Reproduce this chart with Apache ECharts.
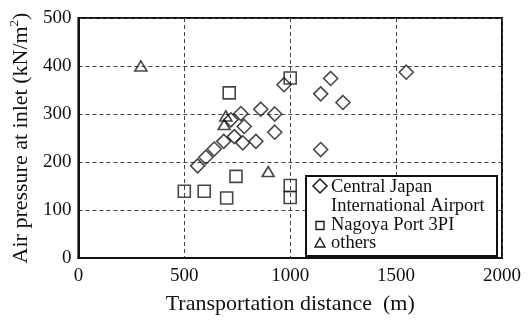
<!DOCTYPE html>
<html>
<head>
<meta charset="utf-8">
<script src="https://cdn.jsdelivr.net/npm/echarts@6/dist/echarts.min.js"></script>
<style>
  html, body { margin: 0; padding: 0; background: #fff; }
  #chart { width: 529px; height: 323px; }
</style>
</head>
<body>
<div id="chart"></div>
<script>
// Transportation distance (m) vs. air pressure at inlet (kN/m2)
const airportDistance = [563, 602, 641, 686, 736, 720, 767, 783, 776, 838, 861, 927, 927, 971, 1144, 1191, 1249, 1144, 1548];
const airportPressure = [192, 210, 227, 243, 253, 288, 301, 274, 240, 243, 310, 300, 262, 361, 342, 374, 324, 226, 387];

const portDistance = [500, 594, 700, 744, 712, 1000, 1000, 1000];
const portPressure = [139, 139, 125, 170, 344, 375, 151, 126];

const otherDistance = [295, 696, 688, 896];
const otherPressure = [400, 296, 278, 180];

const xTicks = [0, 500, 1000, 1500, 2000];
const yTicks = [0, 100, 200, 300, 400, 500];

const seriesNames = ['Central Japan International Airport', 'Nagoya Port 3PI', 'others'];

const FONT = 'Liberation Serif';
const INK = '#111';

function pairs(xs, ys) { return xs.map((x, i) => [x, ys[i]]); }

const markerStyle = { color: 'rgba(0,0,0,0)', borderColor: '#1a1a1a', borderWidth: 1.6 };

const chart = echarts.init(document.getElementById('chart'), null, { renderer: 'canvas' });

// Legend box drawn in the lower right corner of the plot
const LX = 306, LY = 176, LW = 191, LH = 80;
const legendFont = '18.5px "' + FONT + '"';
const legendChildren = [
  { type: 'rect', z: 1, shape: { x: LX, y: LY, width: LW, height: LH },
    style: { fill: '#ffffff', stroke: '#111', lineWidth: 2 } },
  { type: 'polygon', z: 2, shape: { points: [[320, 179], [327, 186], [320, 193], [313, 186]] },
    style: { fill: 'rgba(0,0,0,0)', stroke: '#1a1a1a', lineWidth: 1.5 } },
  { type: 'text', z: 2, x: 331, y: 187,
    style: { text: 'Central Japan', font: legendFont, fill: INK, verticalAlign: 'middle' } },
  { type: 'text', z: 2, x: 331, y: 206,
    style: { text: 'International Airport', font: legendFont, fill: INK, verticalAlign: 'middle' } },
  { type: 'rect', z: 2, shape: { x: 316, y: 221.5, width: 8, height: 8 },
    style: { fill: 'rgba(0,0,0,0)', stroke: '#1a1a1a', lineWidth: 1.4 } },
  { type: 'text', z: 2, x: 331, y: 225,
    style: { text: 'Nagoya Port 3PI', font: legendFont, fill: INK, verticalAlign: 'middle' } },
  { type: 'polygon', z: 2, shape: { points: [[320, 238], [325, 247], [315, 247]] },
    style: { fill: 'rgba(0,0,0,0)', stroke: '#1a1a1a', lineWidth: 1.4 } },
  { type: 'text', z: 2, x: 331, y: 243,
    style: { text: 'others', font: legendFont, fill: INK, verticalAlign: 'middle' } }
];

const plainNumber = v => String(v);

const option = {
  backgroundColor: '#fff',
  animation: false,
  grid: {
    left: 77, right: 27, top: 18, bottom: 65,
    show: true, borderColor: '#111', borderWidth: 2, backgroundColor: 'transparent'
  },
  xAxis: {
    type: 'value',
    min: xTicks[0], max: xTicks[xTicks.length - 1], interval: 500,
    name: 'Transportation distance  (m)',
    nameLocation: 'middle', nameGap: 35,
    nameTextStyle: { fontFamily: FONT, fontSize: 22, color: INK },
    axisLine: { show: true, onZero: false, lineStyle: { color: '#111', width: 2 } },
    axisTick: { show: false },
    axisLabel: { fontFamily: FONT, fontSize: 19, color: INK, margin: 9, formatter: plainNumber },
    splitLine: { show: true, lineStyle: { color: '#444', width: 1, type: [4, 3] } }
  },
  yAxis: {
    type: 'value',
    min: yTicks[0], max: yTicks[yTicks.length - 1], interval: 100,
    name: 'Air pressure at inlet (kN/m{sup|2})',
    nameLocation: 'middle', nameGap: 44,
    nameTextStyle: {
      fontFamily: FONT, fontSize: 22, color: INK,
      rich: { sup: { fontFamily: FONT, fontSize: 13, color: INK, verticalAlign: 'top', lineHeight: 26 } }
    },
    axisLine: { show: true, onZero: false, lineStyle: { color: '#111', width: 2 } },
    axisTick: { show: false },
    axisLabel: { fontFamily: FONT, fontSize: 19, color: INK, margin: 7, formatter: plainNumber },
    splitLine: { show: true, lineStyle: { color: '#444', width: 1, type: [4, 3] } }
  },
  graphic: { elements: [{ type: 'group', z: 100, children: legendChildren }] },
  series: [
    {
      name: seriesNames[0], type: 'scatter', symbol: 'diamond', symbolSize: 14,
      itemStyle: markerStyle, data: pairs(airportDistance, airportPressure), z: 3
    },
    {
      name: seriesNames[1], type: 'scatter', symbol: 'rect', symbolSize: 12,
      itemStyle: markerStyle, data: pairs(portDistance, portPressure), z: 3
    },
    {
      name: seriesNames[2], type: 'scatter', symbol: 'triangle', symbolSize: [12, 10],
      itemStyle: markerStyle, data: pairs(otherDistance, otherPressure), z: 3
    }
  ]
};

chart.setOption(option);
</script>
</body>
</html>
